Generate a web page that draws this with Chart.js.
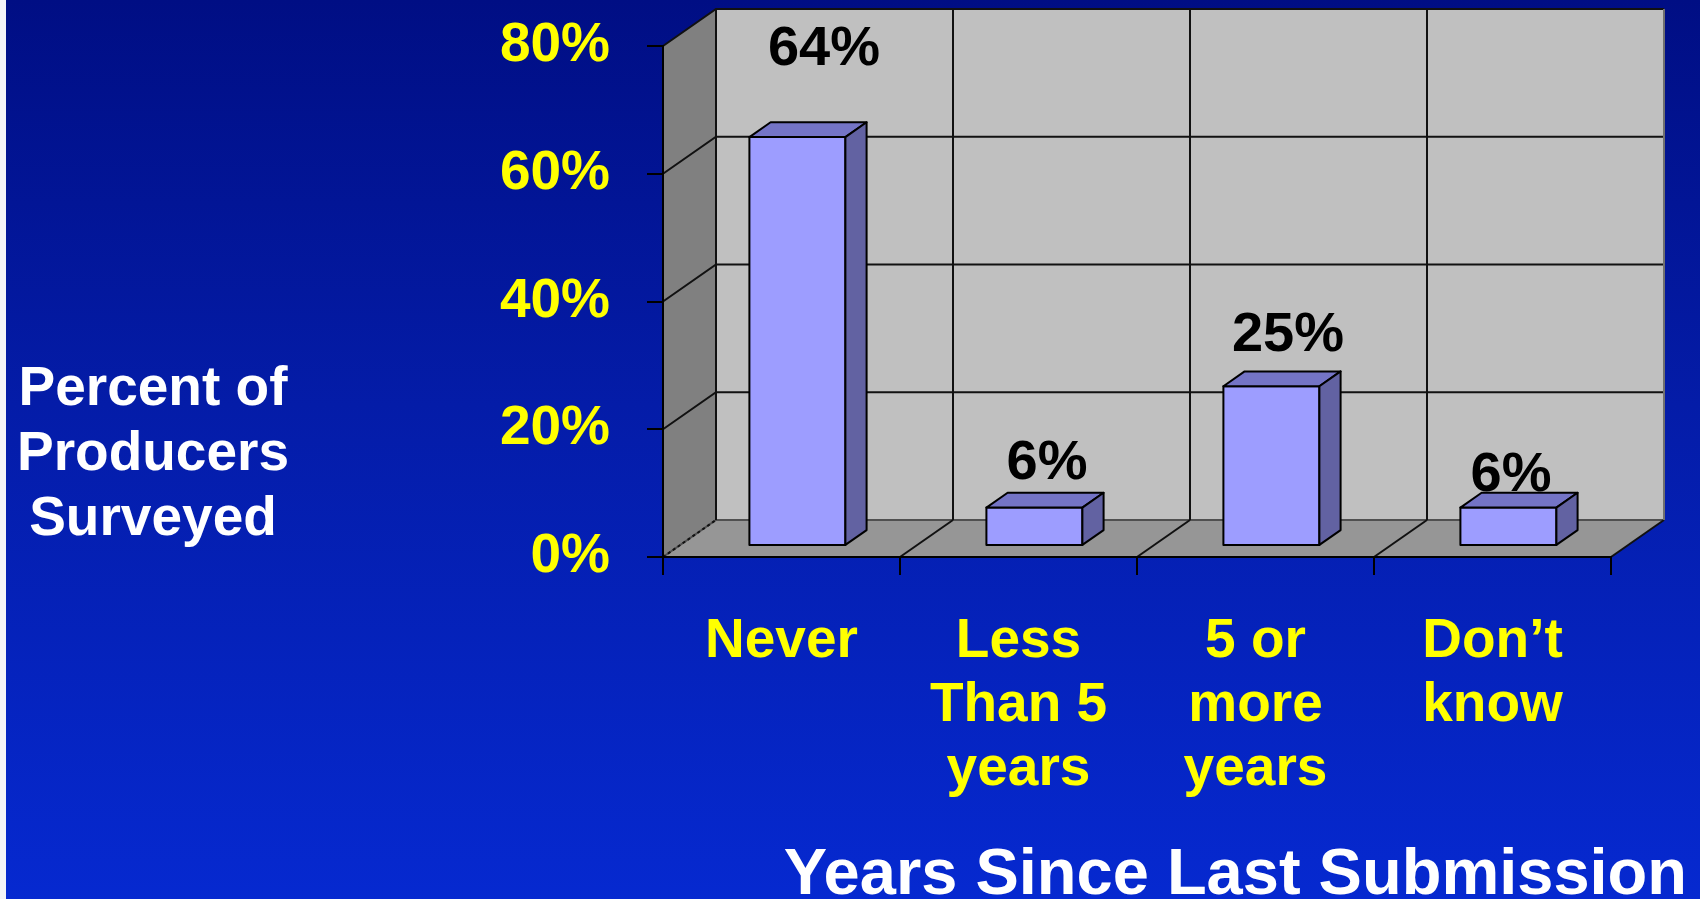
<!DOCTYPE html>
<html>
<head>
<meta charset="utf-8">
<script src="https://cdn.jsdelivr.net/npm/chart.js@4.4.0/dist/chart.umd.min.js"></script>
<style>
  html, body { margin: 0; padding: 0; background: #fff; overflow: hidden; }
  #wrap {
    position: absolute; left: 0; top: 0; width: 1700px; height: 899px;
    background: linear-gradient(to bottom, #000e84 0%, #041ca8 45%, #0629d0 100%);
  }
  #strip { position: absolute; left: 0; top: 0; width: 6px; height: 899px; background: #f4f4f8; }
</style>
</head>
<body>
<div id="wrap"><canvas id="chart" width="1700" height="899"></canvas></div>
<div id="strip"></div>
<script>
// chart data
const categories = [["Never"], ["Less", "Than 5", "years"], ["5 or", "more", "years"], ["Don\u2019t", "know"]];
const percentValues = [64, 6, 25, 6];
const valueLabels = ["64%", "6%", "25%", "6%"];
const yTicks = [0, 20, 40, 60, 80];
const yTitleLines = ["Percent of", "Producers", "Surveyed"];
const xTitle = "Years Since Last Submission";

const FONT = "'Liberation Sans', Arial, sans-serif";
const DEPTH_X = 53, DEPTH_Y = 37; // depth of the 3d box

// walls, floor and gridlines behind the bars
const box3d = {
  id: "box3d",
  beforeDraw(chart) {
    const { ctx, chartArea: a, scales: { x, y } } = chart;
    const n = categories.length;
    ctx.save();

    // left wall
    ctx.fillStyle = "#808080";
    ctx.beginPath();
    ctx.moveTo(a.left, a.top);
    ctx.lineTo(a.left + DEPTH_X, a.top - DEPTH_Y);
    ctx.lineTo(a.left + DEPTH_X, a.bottom - DEPTH_Y);
    ctx.lineTo(a.left, a.bottom);
    ctx.closePath();
    ctx.fill();

    // back wall
    ctx.fillStyle = "#c0c0c0";
    ctx.fillRect(a.left + DEPTH_X, a.top - DEPTH_Y, a.width, a.height);

    // floor
    ctx.fillStyle = "#969696";
    ctx.beginPath();
    ctx.moveTo(a.left, a.bottom);
    ctx.lineTo(a.left + DEPTH_X, a.bottom - DEPTH_Y);
    ctx.lineTo(a.right + DEPTH_X, a.bottom - DEPTH_Y);
    ctx.lineTo(a.right, a.bottom);
    ctx.closePath();
    ctx.fill();

    // horizontal gridlines (left wall + back wall)
    ctx.lineWidth = 2;
    yTicks.forEach((v) => {
      const py = y.getPixelForValue(v);
      ctx.strokeStyle = v === 0 ? "#505050" : "#111";
      ctx.beginPath();
      ctx.moveTo(a.left, py);
      ctx.lineTo(a.left + DEPTH_X, py - DEPTH_Y);
      ctx.lineTo(a.right + DEPTH_X, py - DEPTH_Y);
      ctx.stroke();
    });

    // category separators (floor + back wall)
    for (let k = 0; k <= n; k++) {
      const px = x.getPixelForValue(k - 0.5);
      ctx.strokeStyle = "#111";
      ctx.setLineDash(k === 0 ? [3, 3] : []);
      ctx.beginPath();
      ctx.moveTo(px, a.bottom);
      ctx.lineTo(px + DEPTH_X, a.bottom - DEPTH_Y);
      ctx.stroke();
      ctx.setLineDash([]);
      ctx.strokeStyle = k === n ? "#707070" : "#111";
      ctx.beginPath();
      ctx.moveTo(px + DEPTH_X, a.bottom - DEPTH_Y);
      ctx.lineTo(px + DEPTH_X, a.top - DEPTH_Y);
      ctx.stroke();
    }
    ctx.restore();
  },
};

// 3d bars, value labels and titles
const bars3d = {
  id: "bars3d",
  afterDatasetsDraw(chart, args, opts) {
    const { ctx } = chart;
    const meta = chart.getDatasetMeta(0);
    const ox = DEPTH_X * opts.depth, oy = DEPTH_Y * opts.depth;
    ctx.save();
    ctx.lineWidth = 2;
    ctx.strokeStyle = "#000";
    ctx.lineJoin = "round";
    meta.data.forEach((bar) => {
      const x0 = bar.x - bar.width / 2 + DEPTH_X * opts.front;
      const x1 = x0 + bar.width;
      const top = bar.y - DEPTH_Y * opts.front;
      const bot = bar.base - DEPTH_Y * opts.front;

      ctx.fillStyle = opts.frontColor;
      ctx.beginPath();
      ctx.rect(x0, top, x1 - x0, bot - top);
      ctx.fill();
      ctx.stroke();

      ctx.fillStyle = opts.topColor;
      ctx.beginPath();
      ctx.moveTo(x0, top);
      ctx.lineTo(x0 + ox, top - oy);
      ctx.lineTo(x1 + ox, top - oy);
      ctx.lineTo(x1, top);
      ctx.closePath();
      ctx.fill();
      ctx.stroke();

      ctx.fillStyle = opts.sideColor;
      ctx.beginPath();
      ctx.moveTo(x1, top);
      ctx.lineTo(x1 + ox, top - oy);
      ctx.lineTo(x1 + ox, bot - oy);
      ctx.lineTo(x1, bot);
      ctx.closePath();
      ctx.fill();
      ctx.stroke();
    });

    // value labels
    ctx.fillStyle = "#000";
    ctx.font = "bold 56px " + FONT;
    ctx.textAlign = "center";
    ctx.textBaseline = "middle";
    meta.data.forEach((bar, i) => {
      const off = opts.labelOffsets[i];
      ctx.fillText(valueLabels[i], bar.x + DEPTH_X / 2 + off[0], bar.y - DEPTH_Y / 2 + off[1]);
    });
    ctx.restore();
  },
  afterDraw(chart) {
    const { ctx } = chart;
    ctx.save();
    ctx.fillStyle = "#fff";
    ctx.textBaseline = "alphabetic";
    ctx.font = "bold 55px " + FONT;
    ctx.textAlign = "center";
    yTitleLines.forEach((line, i) => ctx.fillText(line, 153, 405 + i * 65));
    ctx.font = "bold 65px " + FONT;
    ctx.textAlign = "right";
    ctx.fillText(xTitle, 1687, 894);
    ctx.restore();
  },
};

new Chart(document.getElementById("chart"), {
  type: "bar",
  data: {
    labels: categories,
    datasets: [
      {
        data: percentValues,
        backgroundColor: "rgba(0,0,0,0)",
        borderWidth: 0,
        barPercentage: 0.405,
        categoryPercentage: 1,
      },
    ],
  },
  options: {
    responsive: false,
    animation: false,
    devicePixelRatio: 1,
    layout: { padding: { top: 46, right: 89, left: 0, bottom: 0 } },
    plugins: {
      legend: { display: false },
      tooltip: { enabled: false },
      bars3d: {
        front: 0.3,
        depth: 0.4,
        frontColor: "#9d9dff",
        topColor: "#7474c6",
        sideColor: "#6262a2",
        labelOffsets: [[16, -80], [2, -37], [6, -43], [-8, -25]],
      },
    },
    scales: {
      x: {
        grid: { drawOnChartArea: false, color: "#000", lineWidth: 2, tickLength: 18, offset: true },
        border: { color: "#000", width: 2 },
        ticks: {
          color: "#ffff00",
          font: { family: FONT, size: 55, weight: "bold", lineHeight: 64 / 55 },
          padding: 35,
          maxRotation: 0,
          autoSkip: false,
        },
        afterFit: (s) => { s.height = 342; },
      },
      y: {
        min: 0,
        max: 80,
        afterBuildTicks: (s) => { s.ticks = yTicks.map((v) => ({ value: v })); },
        grid: { drawOnChartArea: false, color: "#000", lineWidth: 2, tickLength: 16 },
        border: { color: "#000", width: 2 },
        ticks: {
          color: "#ffff00",
          font: { family: FONT, size: 55, weight: "bold" },
          padding: 37,
          callback: (v) => v + "%",
        },
        // fixed axis width; top label padding dropped so the box reaches the top
        afterFit: (s) => { s.width = 663; s.paddingTop = 0; },
      },
    },
  },
  plugins: [box3d, bars3d],
});
</script>
</body>
</html>
